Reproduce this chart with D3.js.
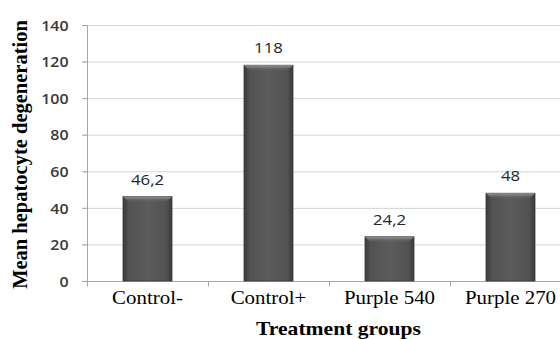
<!DOCTYPE html>
<html><head><meta charset="utf-8">
<script src="https://cdn.jsdelivr.net/npm/d3@7"></script>
<style>body{margin:0;background:#fff}svg{display:block}</style>
</head><body>
<script>
const categories = ["Control-", "Control+", "Purple 540", "Purple 270"];
const values = [46.2, 118, 24.2, 48];
const valueLabels = ["46,2", "118", "24,2", "48"];
const yTicks = [0, 20, 40, 60, 80, 100, 120, 140];
const yTitle = "Mean hepatocyte degeneration";
const xTitle = "Treatment groups";

(function () {
const W = 560, H = 339;
const pLeft = 87, pRight = 571, pTop = 25, pBottom = 281;
const svg = d3.select("body").append("svg").attr("width", W).attr("height", H);

const x = d3.scaleBand().domain(categories).range([pLeft, pRight]).paddingInner(0.595).paddingOuter(0.2975);
const y = d3.scaleLinear().domain([0, 140]).range([pBottom, pTop]);

const defs = svg.append("defs");
const gh = defs.append("linearGradient").attr("id", "gh").attr("x1", 0).attr("x2", 1).attr("y1", 0).attr("y2", 0);
[[0, "#3a3a3a"], [0.12, "#525252"], [0.5, "#5c5c5c"], [0.88, "#525252"], [1, "#3a3a3a"]]
  .forEach(([o, c]) => gh.append("stop").attr("offset", o).attr("stop-color", c));
const gv = defs.append("linearGradient").attr("id", "gv").attr("x1", 0).attr("x2", 0).attr("y1", 0).attr("y2", 1);
[[0, "#9a9a9a", 1], [1, "#5c5c5c", 0]]
  .forEach(([o, c, op]) => gv.append("stop").attr("offset", o).attr("stop-color", c).attr("stop-opacity", op));

// gridlines
svg.append("g").selectAll("line").data(yTicks.filter(d => d > 0)).join("line")
  .attr("x1", pLeft - 5).attr("x2", W).attr("y1", d => y(d) + 0.5).attr("y2", d => y(d) + 0.5)
  .attr("stroke", "#d4d4d4").attr("stroke-width", 1);

// y axis
const ya = svg.append("g").attr("transform", `translate(${pLeft + 0.5},0)`)
  .call(d3.axisLeft(y).tickValues(yTicks).tickSize(5).tickPadding(14));
ya.select(".domain").attr("stroke", "#a6a6a6").attr("d", `M-5,${pTop + 0.5}H0V${pBottom + 5}`);
ya.selectAll(".tick line").attr("stroke", "#a6a6a6");
ya.selectAll(".tick text").attr("font-family", "'Open Sans', sans-serif").attr("font-size", 14.5)
  .attr("font-weight", 600).attr("fill", "#3a3a3a").attr("dy", "0.36em")
  .attr("transform", "scale(1.1,1)").attr("x", -19 / 1.1);

// x axis
const xa = svg.append("g").attr("transform", `translate(0,${pBottom + 0.5})`);
xa.append("line").attr("x1", pLeft - 5).attr("x2", W).attr("stroke", "#a6a6a6");
const bounds = categories.map(c => x(c) - x.step() * x.paddingInner() / 2);
xa.selectAll(".tk").data(bounds).join("line").attr("class", "tk")
  .attr("x1", d => Math.round(d) + 0.5).attr("x2", d => Math.round(d) + 0.5).attr("y1", 0).attr("y2", 5)
  .attr("stroke", "#a6a6a6");
xa.selectAll("text").data(categories).join("text")
  .attr("transform", d => `translate(${x(d) + x.bandwidth() / 2},${303 - pBottom}) scale(1.1,1)`)
  .attr("text-anchor", "middle").attr("font-family", "'Liberation Serif', 'Times New Roman', serif")
  .attr("font-size", 19).attr("fill", "#000").text(d => d);

// bars
const data = categories.map((c, i) => ({ c, v: values[i], l: valueLabels[i] }));
const bars = svg.append("g").selectAll("g").data(data).join("g");
bars.append("rect").attr("x", d => x(d.c)).attr("y", d => y(d.v)).attr("width", x.bandwidth())
  .attr("height", d => y(0) - y(d.v)).attr("fill", "url(#gh)").attr("stroke", "#3a3a3a").attr("stroke-width", 0.8);
bars.append("path").attr("d", d => {
  const x0 = x(d.c), x1 = x0 + x.bandwidth(), y0 = y(d.v), b = 6;
  return `M${x0},${y0}H${x1}L${x1 - b},${y0 + b}H${x0 + b}Z`;
}).attr("fill", "url(#gv)");
bars.append("text")
  .attr("transform", d => `translate(${x(d.c) + x.bandwidth() / 2},${y(d.v) - 12}) scale(1.2,1)`)
  .attr("text-anchor", "middle").attr("font-family", "'Open Sans', sans-serif").attr("font-size", 14)
  .attr("fill", "#262626").text(d => d.l);

// titles
svg.append("text").attr("transform", `translate(27,${(17 + 292) / 2}) rotate(-90)`)
  .attr("text-anchor", "middle").attr("font-family", "'Liberation Serif', 'Times New Roman', serif")
  .attr("font-weight", "bold").attr("font-size", 20.5).attr("fill", "#000").text(yTitle);
svg.append("text").attr("transform", `translate(338.5,335) scale(1.2,1)`)
  .attr("text-anchor", "middle").attr("font-family", "'Liberation Serif', 'Times New Roman', serif")
  .attr("font-weight", "bold").attr("font-size", 18).attr("fill", "#000").text(xTitle);
})();
</script>
</body></html>
